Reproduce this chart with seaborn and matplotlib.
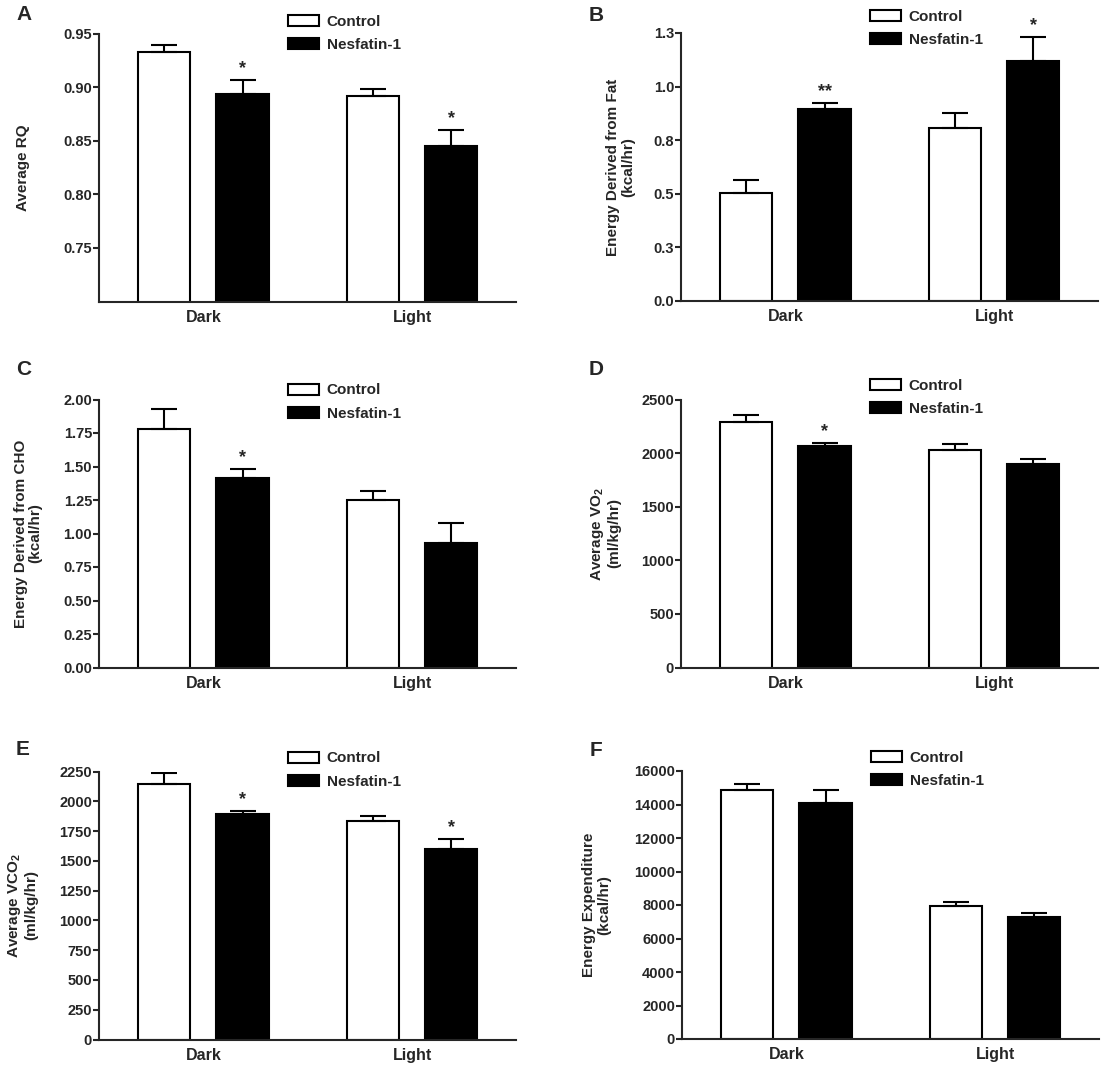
import matplotlib.pyplot as plt
import numpy as np
import pandas as pd
import seaborn as sns
from matplotlib.patches import Patch

# === Data (mean, upper SEM) ===
periods = ["Dark", "Light"]
groups = ["Control", "Nesfatin-1"]

rq_control = [0.933, 0.892]
rq_control_sem = [0.006, 0.006]
rq_nesfatin = [0.894, 0.845]
rq_nesfatin_sem = [0.013, 0.015]

fat_control = [0.502, 0.809]
fat_control_sem = [0.062, 0.067]
fat_nesfatin = [0.895, 1.119]
fat_nesfatin_sem = [0.028, 0.114]

cho_control = [1.783, 1.247]
cho_control_sem = [0.147, 0.067]
cho_nesfatin = [1.416, 0.930]
cho_nesfatin_sem = [0.065, 0.147]

vo2_control = [2291, 2032]
vo2_control_sem = [62, 50]
vo2_nesfatin = [2070, 1899]
vo2_nesfatin_sem = [28, 43]

vco2_control = [2146, 1835]
vco2_control_sem = [90, 42]
vco2_nesfatin = [1892, 1597]
vco2_nesfatin_sem = [30, 84]

ee_control = [14838, 7970]
ee_control_sem = [383, 220]
ee_nesfatin = [14118, 7287]
ee_nesfatin_sem = [720, 263]

# significance marks on the Nesfatin-1 bars
rq_stars = ["*", "*"]
fat_stars = ["**", "*"]
cho_stars = ["*", ""]
vo2_stars = ["*", ""]
vco2_stars = ["*", "*"]
ee_stars = ["", ""]

rq_ticks = [0.75, 0.80, 0.85, 0.90, 0.95]
rq_ticklabels = ["0.75", "0.80", "0.85", "0.90", "0.95"]
fat_ticks = [0.0, 0.25, 0.5, 0.75, 1.0, 1.25]
fat_ticklabels = ["0.0", "0.3", "0.5", "0.8", "1.0", "1.3"]
cho_ticks = [0.0, 0.25, 0.5, 0.75, 1.0, 1.25, 1.5, 1.75, 2.0]
cho_ticklabels = ["0.00", "0.25", "0.50", "0.75", "1.00", "1.25", "1.50", "1.75", "2.00"]
vo2_ticks = [0, 500, 1000, 1500, 2000, 2500]
vco2_ticks = [0, 250, 500, 750, 1000, 1250, 1500, 1750, 2000, 2250]
ee_ticks = [0, 2000, 4000, 6000, 8000, 10000, 12000, 14000, 16000]

# === Style ===
sns.set_style("ticks")
plt.rcParams["font.family"] = ["Liberation Sans", "DejaVu Sans"]
plt.rcParams["font.weight"] = "bold"
plt.rcParams["axes.labelweight"] = "bold"
plt.rcParams["mathtext.fontset"] = "custom"
plt.rcParams["mathtext.rm"] = "Liberation Sans:bold"
plt.rcParams["mathtext.default"] = "rm"

FS = 10.5
LW = 1.5
AX_H = 268


def draw_panel(ax, control, control_sem, nesfatin, nesfatin_sem, stars,
               ylim, ticks, ticklabels, ylabel, label_x, legend_px):
    df = pd.DataFrame({
        "period": periods * 2,
        "group": [groups[0]] * 2 + [groups[1]] * 2,
        "value": list(control) + list(nesfatin),
    })
    sns.barplot(data=df, x="period", y="value", hue="group", order=periods,
                hue_order=groups, palette={"Control": "white", "Nesfatin-1": "black"},
                saturation=1, width=0.75, gap=0.333, errorbar=None,
                edgecolor="black", linewidth=LW, legend=False, ax=ax)

    for cont, sem in zip(ax.containers, [control_sem, nesfatin_sem]):
        xs = [b.get_x() + b.get_width() / 2 for b in cont]
        hs = [b.get_height() for b in cont]
        ax.errorbar(xs, hs, yerr=[np.zeros(len(sem)), sem], fmt="none",
                    ecolor="black", elinewidth=LW, capsize=9.5, capthick=LW, zorder=1)

    nes_bars = ax.containers[1]
    for b, sem, s in zip(nes_bars, nesfatin_sem, stars):
        if s:
            ax.annotate(s, xy=(b.get_x() + b.get_width() / 2, b.get_height() + sem),
                        xytext=(0, 2), textcoords="offset points",
                        ha="center", va="bottom", fontsize=13, fontweight="bold")

    ax.set_xlim(-0.5, 1.497)
    ax.set_ylim(*ylim)
    ax.set_yticks(ticks)
    ax.set_yticklabels(ticklabels)
    ax.set_xlabel("")
    ax.set_ylabel(ylabel, fontsize=11, linespacing=1.1)
    ax.yaxis.set_label_coords(label_x, 0.5)
    ax.yaxis.label.set_va("center")
    ax.tick_params(axis="x", length=0, pad=6, labelsize=11.5)
    ax.tick_params(axis="y", length=4.5, width=LW, pad=0.5, labelsize=FS)
    for lab in ax.get_xticklabels() + ax.get_yticklabels():
        lab.set_fontweight("bold")
    sns.despine(ax=ax)
    for side in ["left", "bottom"]:
        ax.spines[side].set_linewidth(LW)

    handles = [Patch(facecolor="white", edgecolor="black", linewidth=LW),
               Patch(facecolor="black", edgecolor="black", linewidth=LW)]
    ax.legend(handles, groups, loc="upper left",
              bbox_to_anchor=(0.453, 1 + (legend_px - 1) / AX_H),
              frameon=False, borderpad=0, borderaxespad=0, handlelength=2.03,
              handleheight=0.75, handletextpad=0.5, labelspacing=0.59,
              prop={"size": 11, "weight": "bold"})


fig = plt.figure(figsize=(11.02, 10.71), dpi=100)
W, H = 1102, 1071


def axes_at(left_px, top_px):
    return fig.add_axes([left_px / W, 1 - (top_px + AX_H) / H, 417 / W, AX_H / H])


ax_a = axes_at(99, 33.5)
ax_b = axes_at(681, 33)
ax_c = axes_at(99, 399.5)
ax_d = axes_at(681, 399.5)
ax_e = axes_at(99, 771.5)
ax_f = axes_at(682, 771)

draw_panel(ax_a, rq_control, rq_control_sem, rq_nesfatin, rq_nesfatin_sem, rq_stars,
           (0.70, 0.95), rq_ticks, rq_ticklabels, "Average RQ", -0.183, 20)
draw_panel(ax_b, fat_control, fat_control_sem, fat_nesfatin, fat_nesfatin_sem, fat_stars,
           (0, 1.25), fat_ticks, fat_ticklabels,
           "Energy Derived from Fat\n(kcal/hr)", -0.145, 24)
draw_panel(ax_c, cho_control, cho_control_sem, cho_nesfatin, cho_nesfatin_sem, cho_stars,
           (0, 2.0), cho_ticks, cho_ticklabels,
           "Energy Derived from CHO\n(kcal/hr)", -0.17, 17)
draw_panel(ax_d, vo2_control, vo2_control_sem, vo2_nesfatin, vo2_nesfatin_sem, vo2_stars,
           (0, 2500), vo2_ticks, [str(t) for t in vo2_ticks],
           "Average VO$_2$\n(ml/kg/hr)", -0.182, 21.5)
draw_panel(ax_e, vco2_control, vco2_control_sem, vco2_nesfatin, vco2_nesfatin_sem, vco2_stars,
           (0, 2250), vco2_ticks, [str(t) for t in vco2_ticks],
           "Average VCO$_2$\n(ml/kg/hr)", -0.184, 21)
draw_panel(ax_f, ee_control, ee_control_sem, ee_nesfatin, ee_nesfatin_sem, ee_stars,
           (0, 16000), ee_ticks, [str(t) for t in ee_ticks],
           "Energy Expenditure\n(kcal/hr)", -0.204, 21.5)

for letter, (x, y) in zip("ABCDEF", [(16, 5), (589, 6), (16, 360), (589, 360), (16, 740), (590, 741)]):
    fig.text(x / W, 1 - y / H, letter, ha="left", va="top", fontsize=15, fontweight="bold")

fig.savefig("out.png", dpi=100)
